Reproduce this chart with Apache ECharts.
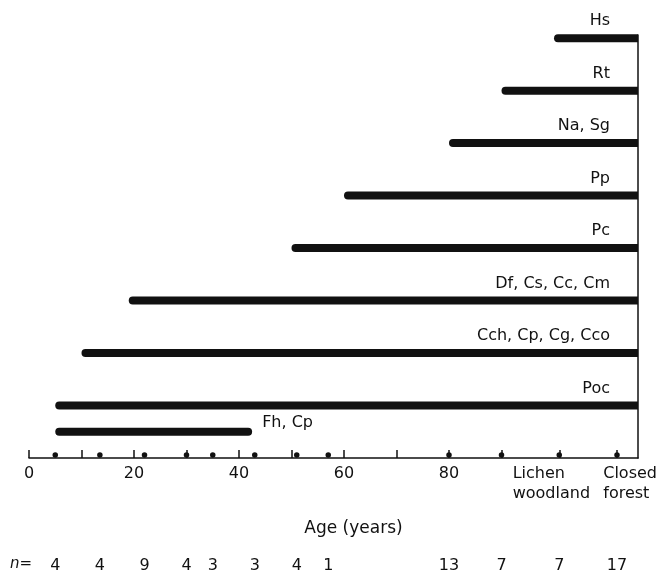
<!DOCTYPE html>
<html>
<head>
<meta charset="utf-8">
<script src="https://cdn.jsdelivr.net/npm/echarts@6/dist/echarts.min.js"></script>
<style>html,body{margin:0;padding:0;background:#fff}#c{width:661px;height:579px}</style>
</head>
<body>
<div id="c"></div>
<script>
// ---- data ----
const groupNames = ['Fh, Cp', 'Poc', 'Cch, Cp, Cg, Cco', 'Df, Cs, Cc, Cm', 'Pc', 'Pp', 'Na, Sg', 'Rt', 'Hs'];
const groupRow   = [0.5, 1, 2, 3, 4, 5, 6, 7, 8];
const firstAge   = [5, 5, 10, 19, 50, 60, 80, 90, 100];
const lastAge    = [42.5, 'end', 'end', 'end', 'end', 'end', 'end', 'end', 'end'];

const sampleAge = [5, 13.5, 22, 30, 35, 43, 51, 57, 80, 90, 'Lichen woodland', 'Closed forest'];
const sampleN   = [4, 4, 9, 4, 3, 3, 4, 1, 13, 7, 7, 17];

const numericTicks  = [0, 10, 20, 30, 40, 50, 60, 70, 80, 90];
const numericLabels = [0, 20, 40, 60, 80];
const stageLabels   = ['Lichen woodland', 'Closed forest'];

// ---- layout ----
const X_MAX = 116;
const STAGE_AT = { 'Lichen woodland': 101, 'Closed forest': 112, 'end': X_MAX };
const STAGE_LABEL_AT = { 'Lichen woodland': 99.5, 'Closed forest': 114.5 };
const toX = v => (typeof v === 'string' ? STAGE_AT[v] : v);

const FONT = 'DejaVu Sans';
const INK = '#111';

const sampleX = sampleAge.map(toX);
const stageLabelX = stageLabels.map(s => STAGE_LABEL_AT[s]);

const chart = echarts.init(document.getElementById('c'), null, { renderer: 'canvas' });

const option = {
  animation: false,
  backgroundColor: '#fff',
  grid: { left: 29, right: 23, top: 35, bottom: 121, outerBoundsMode: 'none' },
  xAxis: [{
    type: 'value', min: 0, max: X_MAX,
    axisLine: { show: true, onZero: false, lineStyle: { color: INK, width: 1.5 } },
    axisTick: {
      show: true, inside: true, length: 8,
      lineStyle: { color: INK, width: 1.5 },
      customValues: numericTicks.concat(stageLabels.map(s => STAGE_AT[s]))
    },
    axisLabel: {
      customValues: numericLabels.concat(stageLabelX),
      margin: 6,
      fontFamily: FONT, fontSize: 16, color: INK, lineHeight: 20,
      formatter: function (v) {
        for (let i = 0; i < stageLabels.length; i++) {
          if (Math.abs(v - stageLabelX[i]) < 1e-6) {
            return stageLabels[i].split(' ').map(w => '{s|' + w + '}').join('\n');
          }
        }
        return String(v);
      },
      rich: { s: { align: 'left', fontFamily: FONT, fontSize: 16, lineHeight: 20, color: INK } }
    },
    splitLine: { show: false },
    name: 'Age (years)', nameLocation: 'middle', nameGap: 62,
    nameTextStyle: { fontFamily: FONT, fontSize: 17, color: INK, padding: [0, 0, 0, 40] }
  }, {
    type: 'value', min: 0, max: X_MAX, position: 'bottom',
    axisLine: { show: false }, axisTick: { show: false }, splitLine: { show: false },
    axisLabel: {
      customValues: sampleX,
      margin: 100,
      fontFamily: FONT, fontSize: 16, color: INK,
      formatter: function (v) {
        let best = 0, d = Infinity;
        sampleX.forEach((x, i) => { if (Math.abs(x - v) < d) { d = Math.abs(x - v); best = i; } });
        return String(sampleN[best]);
      }
    }
  }],
  yAxis: {
    type: 'value', min: 0, max: 8.06, position: 'right',
    axisLine: { show: true, onZero: false, lineStyle: { color: INK, width: 1.5 } },
    axisTick: { show: false }, axisLabel: { show: false }, splitLine: { show: false }
  },
  series: [{
    type: 'custom',
    clip: false,
    data: groupNames.map((n, i) => [toX(firstAge[i]), toX(lastAge[i]), groupRow[i]]),
    encode: { x: [0, 1], y: 2 },
    renderItem: function (params, api) {
      const a = api.coord([api.value(0), api.value(2)]);
      const b = api.coord([api.value(1), api.value(2)]);
      const h = 8;
      const i = params.dataIndex;
      const full = api.value(1) >= X_MAX;
      return {
        type: 'group',
        children: [{
          type: 'rect',
          shape: { x: a[0], y: a[1] - h / 2, width: b[0] - a[0], height: h, r: full ? [4, 0, 0, 4] : 4 },
          style: { fill: INK }
        }, {
          type: 'text',
          x: full ? b[0] - 28 : b[0] + 10,
          y: full ? a[1] - 17 : a[1] - 9,
          style: {
            text: groupNames[i],
            align: full ? 'right' : 'left',
            verticalAlign: 'middle',
            fontFamily: FONT, fontSize: 16, fill: INK
          }
        }]
      };
    }
  }, {
    type: 'scatter',
    clip: false,
    symbol: 'circle', symbolSize: 5.5, symbolOffset: [0, -3],
    itemStyle: { color: INK, opacity: 1 },
    z: 5,
    data: sampleX.map(x => [x, 0])
  }],
  graphic: [{
    type: 'text', left: 10, top: 557,
    style: {
      text: '{i|n}=',
      fontFamily: FONT, fontSize: 15, fill: INK,
      rich: { i: { fontStyle: 'italic', fontFamily: FONT, fontSize: 15, fill: INK } }
    }
  }]
};
chart.setOption(option);
</script>
</body>
</html>
